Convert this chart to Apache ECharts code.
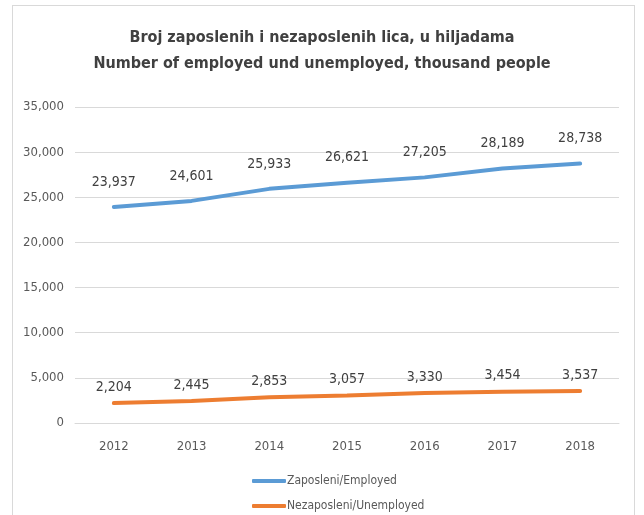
<!DOCTYPE html>
<html>
<head>
<meta charset="utf-8">
<script src="https://cdn.jsdelivr.net/npm/echarts@6/dist/echarts.min.js"></script>
<style>
  html, body { margin: 0; padding: 0; background: #fff; }
  #frame { position: absolute; left: 12px; top: 5px; width: 623px; height: 520px; border: 1px solid #d9d9d9; box-sizing: border-box; }
  #chart { position: absolute; left: 0; top: 0; width: 644px; height: 515px; }
</style>
</head>
<body>
<div id="frame"></div>
<div id="chart"></div>
<script>
// Years on the category axis
const years = ['2012', '2013', '2014', '2015', '2016', '2017', '2018'];
// Thousand people
const employed = [23937, 24601, 25933, 26621, 27205, 28189, 28738];
const unemployed = [2204, 2445, 2853, 3057, 3330, 3454, 3537];
const seriesNames = ['Zaposleni/Employed', 'Nezaposleni/Unemployed'];
const titleLines = ['Broj zaposlenih i nezaposlenih lica, u hiljadama', 'Number of employed und unemployed, thousand people'];

const FONT = '"Liberation Sans Narrow", "DejaVu Sans Condensed", "Liberation Sans", sans-serif';
const fmt = v => v.toLocaleString('en-US');

const legendBase = {
  orient: 'horizontal',
  left: 252,
  padding: 0,
  itemWidth: 34,
  itemHeight: 4,
  icon: 'roundRect',
  textStyle: { fontFamily: FONT, fontSize: 12, color: '#595959', padding: [0, 0, 0, -4] }
};

const chart = echarts.init(document.getElementById('chart'), null, { renderer: 'canvas' });
chart.setOption({
  backgroundColor: 'transparent',
  animation: false,
  title: {
    text: titleLines.join('\n'),
    left: 'center',
    top: 20,
    textStyle: { fontFamily: FONT, fontSize: 16, fontWeight: 'bold', color: '#404040', lineHeight: 26 }
  },
  legend: [
    Object.assign({}, legendBase, { top: 475, data: [seriesNames[0]] }),
    Object.assign({}, legendBase, { top: 500, data: [seriesNames[1]] })
  ],
  grid: { left: 75, right: 25, top: 107, bottom: 92 },
  xAxis: {
    type: 'category',
    data: years,
    boundaryGap: true,
    axisLine: { show: true, lineStyle: { color: '#d9d9d9', width: 1 } },
    axisTick: { show: false },
    axisLabel: { fontFamily: FONT, fontSize: 13, color: '#595959', margin: 17 }
  },
  yAxis: {
    type: 'value',
    min: 0,
    max: 35000,
    interval: 5000,
    axisLine: { show: false },
    axisTick: { show: false },
    splitLine: { lineStyle: { color: '#d9d9d9', width: 1 } },
    axisLabel: { fontFamily: FONT, fontSize: 13, color: '#595959', margin: 11, formatter: fmt }
  },
  series: [
    {
      name: seriesNames[0],
      type: 'line',
      data: employed,
      symbol: 'circle',
      symbolSize: 0,
      showSymbol: true,
      lineStyle: { color: '#5B9BD5', width: 4, cap: 'round' },
      itemStyle: { color: '#5B9BD5' },
      label: { show: true, position: 'top', distance: 18, fontFamily: FONT, fontSize: 14, color: '#404040', formatter: p => fmt(p.value) }
    },
    {
      name: seriesNames[1],
      type: 'line',
      data: unemployed,
      symbol: 'circle',
      symbolSize: 0,
      showSymbol: true,
      lineStyle: { color: '#ED7D31', width: 4, cap: 'round' },
      itemStyle: { color: '#ED7D31' },
      label: { show: true, position: 'top', distance: 9, fontFamily: FONT, fontSize: 14, color: '#404040', formatter: p => fmt(p.value) }
    }
  ]
});
</script>
</body>
</html>
